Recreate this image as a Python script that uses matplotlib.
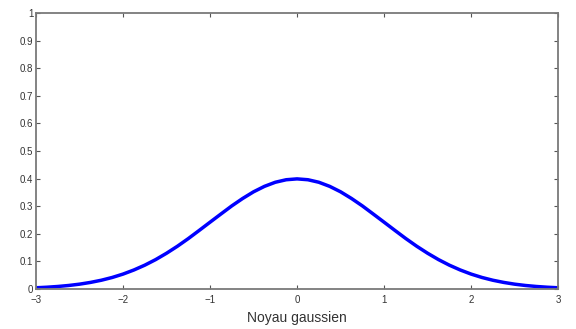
import matplotlib
matplotlib.use("Agg")
import matplotlib.pyplot as plt

plt.rcParams['font.family'] = ['Liberation Sans', 'DejaVu Sans']

x_vals = [-3, -2.875, -2.75, -2.625, -2.5, -2.375, -2.25, -2.125, -2, -1.875, -1.75, -1.625,
          -1.5, -1.375, -1.25, -1.125, -1, -0.875, -0.75, -0.625, -0.5, -0.375, -0.25, -0.125,
          0, 0.125, 0.25, 0.375, 0.5, 0.625, 0.75, 0.875, 1, 1.125, 1.25, 1.375, 1.5, 1.625,
          1.75, 1.875, 2, 2.125, 2.25, 2.375, 2.5, 2.625, 2.75, 2.875, 3]
y_vals = [0.0044, 0.0064, 0.0091, 0.0127, 0.0175, 0.0238, 0.0317, 0.0417, 0.054, 0.0689, 0.0863,
          0.1065, 0.1295, 0.1549, 0.1826, 0.2121, 0.242, 0.2717, 0.3011, 0.328, 0.3521, 0.3718,
          0.3867, 0.3958, 0.3989, 0.3958, 0.3867, 0.3718, 0.3521, 0.328, 0.3011, 0.2717, 0.242,
          0.2121, 0.1826, 0.1549, 0.1295, 0.1065, 0.0863, 0.0689, 0.054, 0.0417, 0.0317, 0.0238,
          0.0175, 0.0127, 0.0091, 0.0064, 0.0044]
x_ticks = [-3, -2, -1, 0, 1, 2, 3]
y_ticks = [0, 0.1, 0.2, 0.3, 0.4, 0.5, 0.6, 0.7, 0.8, 0.9, 1]
y_tick_labels = ['0', '0.1', '0.2', '0.3', '0.4', '0.5', '0.6', '0.7', '0.8', '0.9', '1']
xlabel = 'Noyau gaussien'

fig = plt.figure(figsize=(5.76, 3.29), dpi=100)
ax = fig.add_axes([0.0625, 0.1216, 0.9065, 0.839])
ax.plot(x_vals, y_vals, color='#0000ff', linewidth=2.5, solid_capstyle='round')
ax.set_xlim(-3, 3)
ax.set_ylim(0, 1)
ax.set_xticks(x_ticks)
ax.set_xticklabels([str(t) if t >= 0 else '\u2212' + str(-t) for t in x_ticks])
ax.set_yticks(y_ticks)
ax.set_yticklabels(y_tick_labels)
ax.tick_params(direction='in', top=True, right=True, labelsize=7, length=3,
               width=0.8, colors='#555555', labelcolor='#333333')
ax.tick_params(axis='x', pad=4)
ax.tick_params(axis='y', pad=2)
for s in ax.spines.values():
    s.set_color('#7a7a7a')
    s.set_linewidth(1.3)
ax.set_xlabel(xlabel, fontsize=10, color='#333333', labelpad=5)
fig.savefig('out.png', dpi=100)
